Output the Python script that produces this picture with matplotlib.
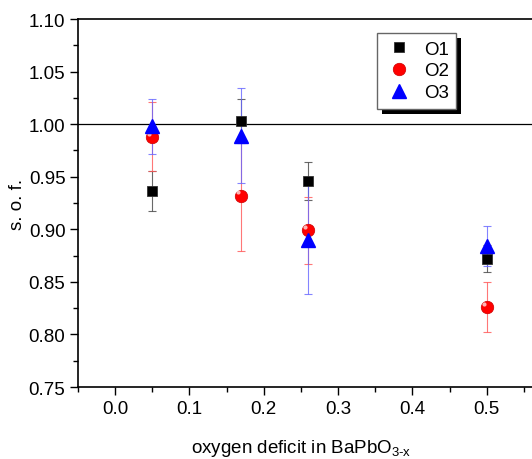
import numpy as np
import matplotlib
matplotlib.use('Agg')
import matplotlib.pyplot as plt
from matplotlib.patches import Rectangle
from matplotlib.transforms import IdentityTransform

plt.rcParams['font.family'] = ['Liberation Sans', 'DejaVu Sans']
plt.rcParams['mathtext.fontset'] = 'custom'
plt.rcParams['mathtext.rm'] = 'Liberation Sans'

# oxygen deficit x in BaPbO3-x
x = [0.05, 0.17, 0.26, 0.50]

# site occupation factors and their errors
o1 = [0.936, 1.003, 0.946, 0.872]
o1_err = [0.019, 0.021, 0.018, 0.013]
o2 = [0.988, 0.932, 0.899, 0.826]
o2_err = [0.033, 0.053, 0.032, 0.024]
o3 = [0.998, 0.989, 0.890, 0.884]
o3_err = [0.026, 0.045, 0.052, 0.019]

fig = plt.figure(figsize=(5.32, 4.60), dpi=100)
# right edge of the frame is cut off in the original picture
ax = fig.add_axes([0.1466, 0.1565, 0.9079, 0.80])

ax.axhline(1.0, color='black', lw=0.9, zorder=1)

ax.errorbar(x, o1, yerr=o1_err, fmt='none', ecolor='#444444', elinewidth=0.8,
            capsize=3, capthick=0.8, alpha=0.8, zorder=2)
ax.errorbar(x, o2, yerr=o2_err, fmt='none', ecolor='#ff5555', elinewidth=0.8,
            capsize=3, capthick=0.8, alpha=0.8, zorder=2)
ax.errorbar(x, o3, yerr=o3_err, fmt='none', ecolor='#6666ff', elinewidth=0.8,
            capsize=3, capthick=0.8, alpha=0.8, zorder=2)

ax.plot(x, o1, 's', color='black', ms=7.5, mec='#333333', mew=0.6, label='O1', zorder=3)
ax.plot(x, o2, 'o', color='red', ms=9, mec='#cc0000', mew=0.5, label='O2', zorder=4)
# highlight on the red spheres
ax.plot(np.array(x) - 0.004, np.array(o2) + 0.003, 'o', color='white', ms=3,
        mec='none', alpha=0.7, zorder=5)
ax.plot(x, o3, '^', color='blue', ms=9.5, mec='blue', label='O3', zorder=6)

ax.set_xlim(-0.05, 0.6)
ax.set_ylim(0.75, 1.10)
ax.set_xticks([0.0, 0.1, 0.2, 0.3, 0.4, 0.5])
ax.set_xticks(np.arange(-0.05, 0.6, 0.1), minor=True)
ax.set_yticks(np.arange(0.75, 1.101, 0.05))
ax.set_yticks(np.arange(0.775, 1.10, 0.05), minor=True)
ax.set_xticklabels(['0.0', '0.1', '0.2', '0.3', '0.4', '0.5'])
ax.set_yticklabels(['%.2f' % v for v in np.arange(0.75, 1.101, 0.05)])
ax.tick_params(which='major', direction='out', length=6, width=1, labelsize=13.5, pad=3)
ax.tick_params(which='minor', direction='out', length=3.5, width=1)
for s in ax.spines.values():
    s.set_linewidth(1.2)

ax.set_xlabel('oxygen deficit in BaPbO$_{\\mathrm{3\\text{-}x}}$', fontsize=13.5)
ax.xaxis.set_label_coords(0.4617, -0.135)
ax.set_ylabel('s. o. f.', fontsize=13.5)
ax.yaxis.set_label_coords(-0.108, 0.5)

leg = ax.legend(loc='upper left', bbox_to_anchor=(0.619, 0.962), fontsize=13.5,
                fancybox=False, edgecolor='#666666', framealpha=1,
                handletextpad=0.5, borderaxespad=0, borderpad=0.4,
                labelspacing=0.25, handlelength=1.6)
leg.get_frame().set_linewidth(1.0)
leg.set_zorder(10)

# Origin-style solid black drop shadow behind the legend box
fig.canvas.draw()
bb = leg.get_window_extent()
ax.add_patch(Rectangle((bb.x0 + 5, bb.y0 - 5), bb.width, bb.height, facecolor='black',
                       edgecolor='none', transform=IdentityTransform(), clip_on=False,
                       zorder=9))

fig.savefig('out.png', dpi=100)
